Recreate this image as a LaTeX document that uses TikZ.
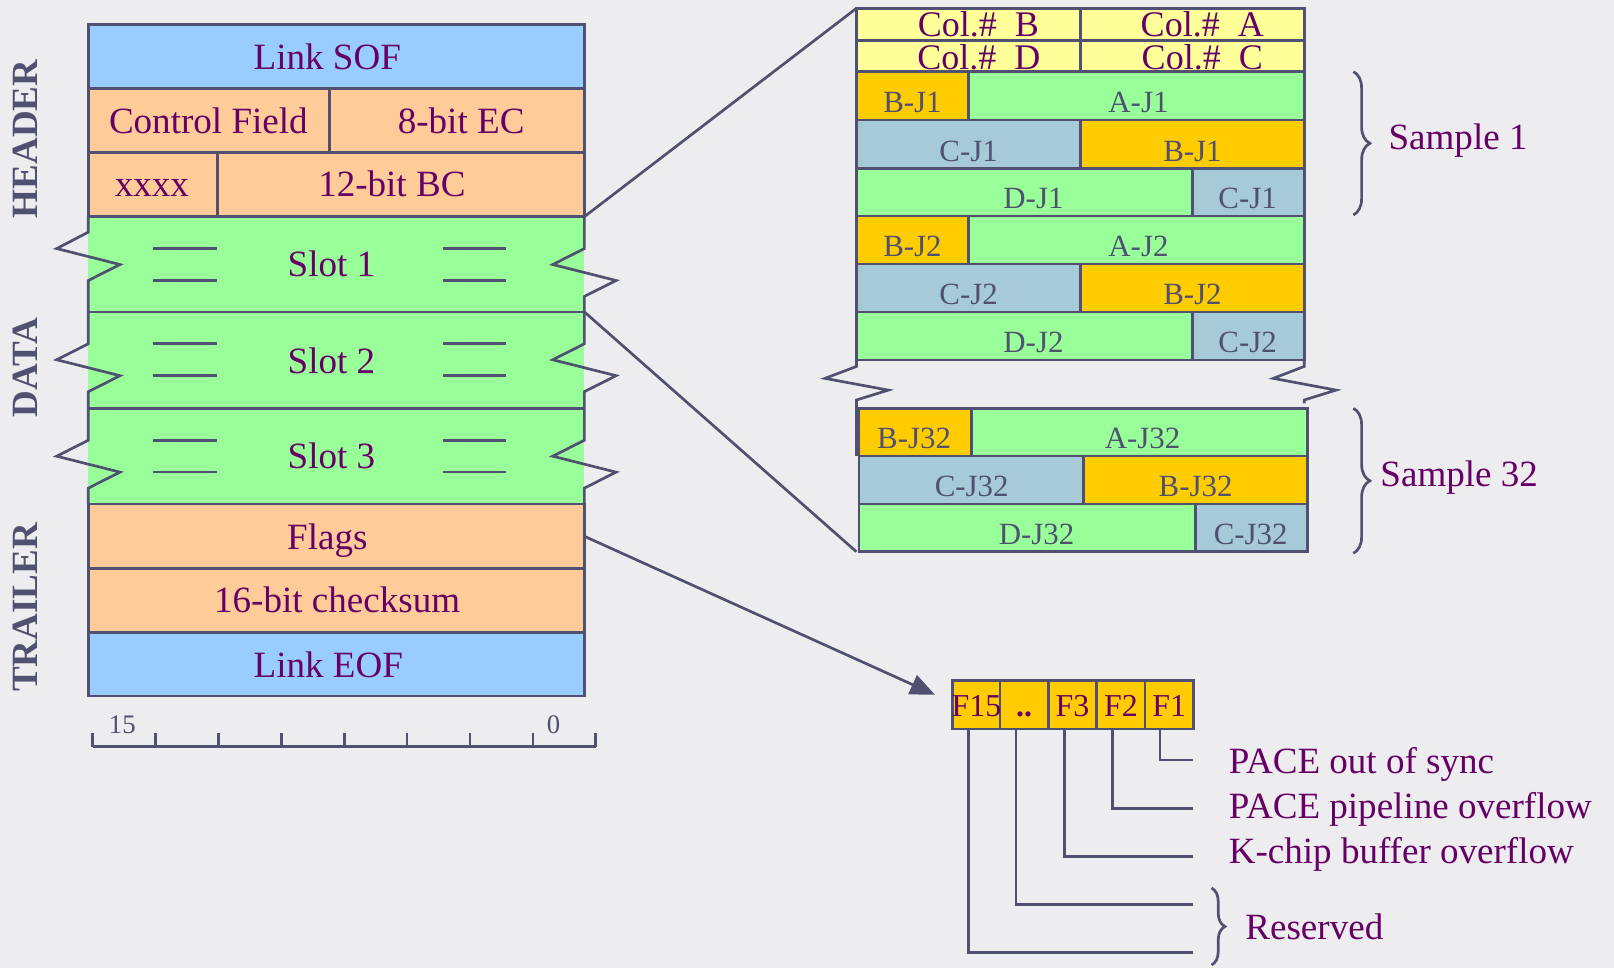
\documentclass[tikz,border=0pt]{standalone}
\usepackage{fontspec}
\setmainfont{Liberation Serif}
\usetikzlibrary{arrows.meta,decorations.pathreplacing}
\definecolor{bg}{HTML}{EDEDEF}
\definecolor{ln}{HTML}{505070}
\definecolor{purp}{HTML}{660066}
\definecolor{sofblue}{HTML}{99CCFF}
\definecolor{peach}{HTML}{FFCC99}
\definecolor{lgreen}{HTML}{99FF99}
\definecolor{lyellow}{HTML}{FFFF99}
\definecolor{gold}{HTML}{FFCC00}
\definecolor{grayblue}{HTML}{A6CAD7}
\tikzset{
  box/.style={draw=ln, line width=1.3pt},
  wire/.style={draw=ln, line width=1.3pt},
  lbl/.style={text=purp, font=\fontsize{18}{20}\selectfont, anchor=base, inner sep=0pt},
  lblw/.style={text=purp, font=\fontsize{18}{20}\selectfont, anchor=base west, inner sep=0pt},
  cell/.style={text=ln, font=\fontsize{15}{17}\selectfont, anchor=base, inner sep=0pt},
  colh/.style={text=purp, font=\fontsize{17.5}{18}\selectfont, anchor=base, inner sep=0pt},
  fbit/.style={text=purp, font=\fontsize{15.5}{17}\selectfont, anchor=base, inner sep=0pt},
  side/.style={text=ln, font=\fontsize{18}{20}\selectfont\bfseries, rotate=90, inner sep=0pt},
  ruler/.style={text=ln, font=\fontsize{13}{14}\selectfont, inner sep=0pt},
  bracestyle/.style={draw=ln, line width=1.3pt, decorate},
}
\begin{document}
\begin{tikzpicture}[x=0.5pt,y=-0.5pt]
\fill[bg] (0,0) rectangle (1568,940);
\useasboundingbox (0,0) rectangle (1568,940);

% ---------- side labels
\node[side] (hdr) at (25,135) {HEADER};
\node[side] (dat) at (25,357) {DATA};
\node[side] (trl) at (25,590) {TRAILER};

% ---------- main frame
\fill[lgreen] (85.8,210.5) rectangle (567.7,489.7);
\filldraw[box, fill=sofblue] (85.8,23.5) rectangle (567.7,86);
\filldraw[box, fill=peach] (85.8,86) rectangle (320,148);
\filldraw[box, fill=peach] (320,86) rectangle (567.7,148);
\filldraw[box, fill=peach] (85.8,148) rectangle (211,210.5);
\filldraw[box, fill=peach] (211,148) rectangle (567.7,210.5);
\filldraw[box, fill=peach] (85.8,489.7) rectangle (567.7,552.2);
\filldraw[box, fill=peach] (85.8,552.2) rectangle (567.7,614.7);
\filldraw[box, fill=sofblue] (85.8,614.7) rectangle (567.7,676.2);
\draw[wire] (85.8,303) -- (567.7,303);
\draw[wire] (85.8,396.7) -- (567.7,396.7);
% zigzag edges
\draw[wire] (85.8,210.5) -- (85.8,225.5) -- (55.1,241.5) -- (116.6,257) -- (85.8,272.5)
  -- (85.8,334) -- (55.1,349.5) -- (116.6,365) -- (85.8,380.5)
  -- (85.8,427.7) -- (55.1,443.2) -- (116.6,458.7) -- (85.8,474.2) -- (85.8,489.7);
\draw[wire] (567.7,210.5) -- (567.7,241.5) -- (537,257) -- (598.5,272.5) -- (567.7,288)
  -- (567.7,334) -- (537,349.5) -- (598.5,365) -- (567.7,380.5)
  -- (567.7,427.7) -- (537,443.2) -- (598.5,458.7) -- (567.7,474.2) -- (567.7,489.7);
% dashes in slots
\foreach \t in {210.5,303,396.7}{
  \draw[wire] (148.4,\t+31) -- (210.8,\t+31);
  \draw[wire] (148.4,\t+62) -- (210.8,\t+62);
  \draw[wire] (430,\t+31) -- (491.6,\t+31);
  \draw[wire] (430,\t+62) -- (491.6,\t+62);
}
% texts
\node[lbl] (sof) at (318,68) {Link SOF};
\node[lbl] (ctl) at (202.4,129.5) {Control Field};
\node[lbl] (ec) at (448,129.5) {8-bit EC};
\node[lbl] (xx) at (147.5,191) {xxxx};
\node[lbl] (bc) at (380.7,191) {12-bit BC};
\node[lbl] (s1) at (322,268.8) {Slot 1};
\node[lbl] (s2) at (322,362.7) {Slot 2};
\node[lbl] (s3) at (322,455) {Slot 3};
\node[lbl] (flg) at (318,533.4) {Flags};
\node[lbl] (chk) at (327.5,595.2) {16-bit checksum};
\node[lbl] (eof) at (319,658) {Link EOF};

% ruler
\draw[wire] (90,725.4) -- (578.8,725.4);
\foreach \k in {0,...,8}{ \draw[wire] (90+61.1*\k,725.4) -- (90+61.1*\k,712); }
\node[ruler] (r15) at (118.8,704.4) {15};
\node[ruler] (r0) at (537.8,704.4) {0};

% ---------- right block: column header
\filldraw[box, fill=lyellow] (832,8.1) rectangle (1050,39.5);
\filldraw[box, fill=lyellow] (1050,8.1) rectangle (1267,39.5);
\filldraw[box, fill=lyellow] (832,39.5) rectangle (1050,69.6);
\filldraw[box, fill=lyellow] (1050,39.5) rectangle (1267,69.6);
\node[colh] (cb) at (950.5,35.6) {Col.\#\ \ B};
\node[colh] (ca) at (1168,35.6) {Col.\#\ \ A};
\node[colh] (cd) at (951,68) {Col.\#\ \ D};
\node[colh] (cc) at (1168,68) {Col.\#\ \ C};

% sample J1 and J2
\foreach \n/\a/\b/\c/\d in {1/69.6/116.6/163.5/210, 2/210/256.6/303/349.8}{
  \filldraw[box, fill=gold] (832,\a) rectangle (941,\b);
  \filldraw[box, fill=lgreen] (941,\a) rectangle (1267,\b);
  \filldraw[box, fill=grayblue] (832,\b) rectangle (1050,\c);
  \filldraw[box, fill=gold] (1050,\b) rectangle (1267,\c);
  \filldraw[box, fill=lgreen] (832,\c) rectangle (1158.4,\d);
  \filldraw[box, fill=grayblue] (1158.4,\c) rectangle (1267,\d);
  \node[cell] (bja\n) at (886.5,\b-7) {B-J\n};
  \node[cell] (aj\n) at (1106,\b-7) {A-J\n};
  \node[cell] (cjb\n) at (941,\c-7) {C-J\n};
  \node[cell] (bjb\n) at (1158.5,\c-7) {B-J\n};
  \node[cell] (dj\n) at (1004,\d-7) {D-J\n};
  \node[cell] (cjc\n) at (1212,\d-7) {C-J\n};
}
% break zigzags
\draw[wire] (832,349.8) -- (832,356) -- (801.5,367.6) -- (863,379) -- (832,388.6) -- (832,443);
\draw[wire] (1267,349.8) -- (1267,356) -- (1237,367.6) -- (1298,379) -- (1267,388.6) -- (1267,392);
% sample J32
\filldraw[box, fill=gold] (834.6,396.7) rectangle (944,443);
\filldraw[box, fill=lgreen] (944,396.7) rectangle (1270,443);
\filldraw[box, fill=grayblue] (834.6,443) rectangle (1052.5,489.7);
\filldraw[box, fill=gold] (1052.5,443) rectangle (1270,489.7);
\filldraw[box, fill=lgreen] (834.6,489.7) rectangle (1161.6,536);
\filldraw[box, fill=grayblue] (1161.6,489.7) rectangle (1270,536);
\draw[wire] (832,396.7) -- (832,443);
\node[cell] (bja32) at (888,436) {B-J32};
\node[cell] (aj32) at (1110,436) {A-J32};
\node[cell] (cjb32) at (944,482.5) {C-J32};
\node[cell] (bjb32) at (1161.5,482.5) {B-J32};
\node[cell] (dj32) at (1007,528.7) {D-J32};
\node[cell] (cjc32) at (1215,528.7) {C-J32};

% braces
\draw[bracestyle, decoration={brace, amplitude=8pt}] (1314.8,69.6) -- (1314.8,208.9);
\node[lblw] (smp1) at (1348.6,145.7) {Sample 1};
\draw[bracestyle, decoration={brace, amplitude=8pt}] (1314.8,396.7) -- (1314.8,537.5);
\node[lblw] (smp32) at (1340.7,472.8) {Sample 32};

% zoom connectors
\coordinate (slotA) at (567.7,210.5);
\coordinate (rbNW) at (832,8.1);
\coordinate (slotB) at (567.7,303);
\coordinate (rbSW) at (832,536);
\draw[wire] (slotA) -- (rbNW);
\draw[wire] (slotB) -- (rbSW);

% flags arrow
\coordinate (flagsE) at (567.7,521);
\coordinate (ftip) at (908.4,675);
\draw[wire, -{Triangle[length=12pt,width=10pt]}] (flagsE) -- (ftip);

% flag bits
\filldraw[box, fill=gold] (925.2,661.3) rectangle (971.5,708.3);
\filldraw[box, fill=gold] (971.5,661.3) rectangle (1018.5,708.3);
\filldraw[box, fill=gold] (1018.5,661.3) rectangle (1065.5,708.3);
\filldraw[box, fill=gold] (1065.5,661.3) rectangle (1112.4,708.3);
\filldraw[box, fill=gold] (1112.4,661.3) rectangle (1159.3,708.3);
\node[fbit] (f15) at (948.6,696.3) {F15};
\node[fbit] (fdots) at (995,696.3) {\textbf{..}};
\node[fbit] (f3) at (1042,696.3) {F3};
\node[fbit] (f2) at (1089,696.3) {F2};
\node[fbit] (f1) at (1135.9,696.3) {F1};

% leaders
\coordinate (b1) at (1127,708.3);   \coordinate (e1) at (1158.7,738.4);
\coordinate (b2) at (1080.7,708.3); \coordinate (e2) at (1158.7,785.3);
\coordinate (b3) at (1034,708.3);   \coordinate (e3) at (1158.7,832.3);
\coordinate (b4) at (987,708.3);    \coordinate (e4) at (1158.7,878.6);
\coordinate (b5) at (940.8,708.3);  \coordinate (e5) at (1158.7,925.5);
\draw[wire] (b1) |- (e1);
\draw[wire] (b2) |- (e2);
\draw[wire] (b3) |- (e3);
\draw[wire] (b4) |- (e4);
\draw[wire] (b5) |- (e5);
\node[lblw] (t1) at (1193.4,751.3) {PACE out of sync};
\node[lblw] (t2) at (1193.4,795) {PACE pipeline overflow};
\node[lblw] (t3) at (1193.4,838.8) {K-chip buffer overflow};
\draw[bracestyle, decoration={brace, amplitude=6.5pt}] (1177,862.7) -- (1177,937.5);
\node[lblw] (t4) at (1209.5,913.2) {Reserved};
\end{tikzpicture}
\end{document}
